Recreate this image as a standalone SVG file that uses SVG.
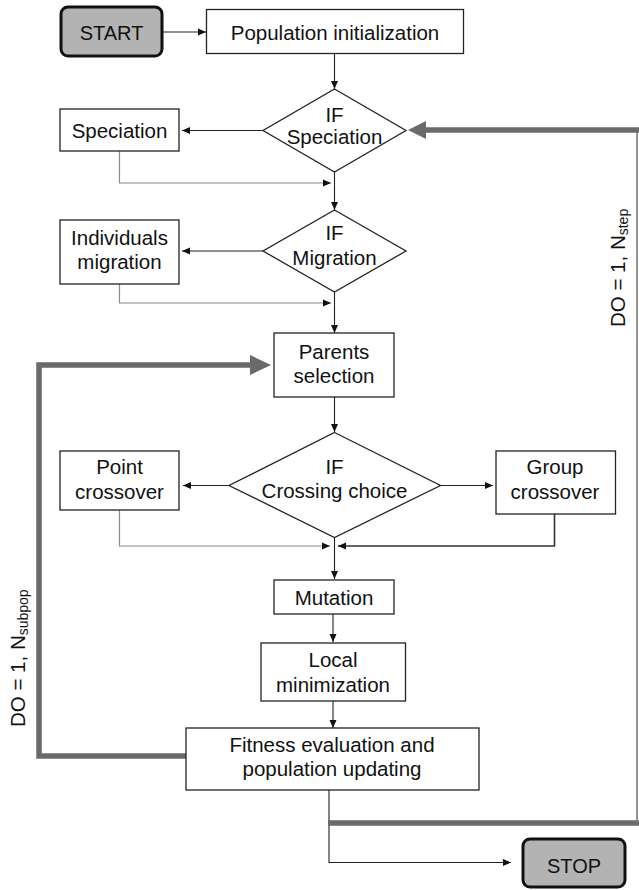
<svg xmlns="http://www.w3.org/2000/svg" width="639" height="890" viewBox="0 0 639 890">
<style>
text{font-family:"Liberation Sans",Arial,sans-serif;font-size:20.5px;fill:#111;text-anchor:middle}
.box{fill:#fff;stroke:#222;stroke-width:1.3}
.term{fill:#b3b3b3;stroke:#111;stroke-width:3}
.ln{fill:none;stroke:#222;stroke-width:1.1}
.lg{fill:none;stroke:#8a8a8a;stroke-width:1.2}
.lb{fill:none;stroke:#333;stroke-width:1.6}
.thick{fill:none;stroke:#6a6a6a;stroke-width:5.5}
.thin{fill:none;stroke:#7a7a7a;stroke-width:1.6}
.head{fill:#6a6a6a}
.lbl{text-anchor:start}
</style>
<defs>
<marker id="ah" markerUnits="userSpaceOnUse" markerWidth="8" markerHeight="8" refX="8" refY="4" orient="auto">
<path d="M0,0.5 L8,4 L0,7.5 z" fill="#111"/>
</marker>
</defs>

<g id="connectors">
<line class="ln" x1="163" y1="32" x2="206" y2="32" marker-end="url(#ah)"/>
<line class="ln" x1="334.5" y1="54" x2="334.5" y2="89" marker-end="url(#ah)"/>
<line class="ln" x1="263" y1="130.5" x2="182" y2="130.5" marker-end="url(#ah)"/>
<polyline class="lg" points="119.5,151 119.5,183 331,183" marker-end="url(#ah)"/>
<line class="ln" x1="334.5" y1="172" x2="334.5" y2="210" marker-end="url(#ah)"/>
<line class="ln" x1="263" y1="251" x2="182" y2="251" marker-end="url(#ah)"/>
<polyline class="lg" points="119.5,284 119.5,303 331,303" marker-end="url(#ah)"/>
<line class="ln" x1="334.5" y1="292" x2="334.5" y2="333" marker-end="url(#ah)"/>
<line class="ln" x1="334.5" y1="397" x2="334.5" y2="432" marker-end="url(#ah)"/>
<line class="ln" x1="229" y1="485.5" x2="183" y2="485.5" marker-end="url(#ah)"/>
<line class="ln" x1="440.5" y1="485.5" x2="493" y2="485.5" marker-end="url(#ah)"/>
<polyline class="lg" points="119.5,510 119.5,546 330,546" marker-end="url(#ah)"/>
<polyline class="lb" points="554.5,514 554.5,546 338,546" marker-end="url(#ah)"/>
<line class="ln" x1="334.5" y1="537.5" x2="334.5" y2="579" marker-end="url(#ah)"/>
<line class="ln" x1="333" y1="614" x2="333" y2="642" marker-end="url(#ah)"/>
<line class="ln" x1="333" y1="701" x2="333" y2="728" marker-end="url(#ah)"/>
<polyline class="ln" points="329,790 329,862.5 511,862.5" marker-end="url(#ah)"/>
<polyline class="thick" points="186,756 39,756 39,365 251,365"/>
<polygon class="head" points="250,355 271,365 250,375"/>
<line class="thick" x1="328" y1="823" x2="642" y2="823"/>
<line class="thin" x1="637" y1="130" x2="637" y2="823"/>
<line class="thick" x1="642" y1="130" x2="425" y2="130"/>
<polygon class="head" points="426,121 408,130 426,139"/>
</g>

<g id="start"><rect class="term" x="61" y="7" width="101" height="49" rx="7"/><text x="111.5" y="40" style="font-size:20px">START</text></g>
<g id="pop-init"><rect class="box" x="206.5" y="9.5" width="257" height="44"/><text x="335" y="39.5">Population initialization</text></g>
<g id="if-speciation"><polygon class="box" points="334.5,89 406,130.5 334.5,172 263,130.5"/><text x="334.5" y="121.5">IF</text><text x="334.5" y="143.5">Speciation</text></g>
<g id="speciation"><rect class="box" x="60" y="109" width="119" height="42"/><text x="119.5" y="137.5">Speciation</text></g>
<g id="if-migration"><polygon class="box" points="334.5,210 406,251 334.5,292 263,251"/><text x="334.5" y="240">IF</text><text x="334.5" y="264.5">Migration</text></g>
<g id="individuals-migration"><rect class="box" x="60" y="220" width="119" height="64"/><text x="119.5" y="245">Individuals</text><text x="119.5" y="269">migration</text></g>
<g id="parents-selection"><rect class="box" x="274" y="333" width="120" height="64"/><text x="334" y="358.5">Parents</text><text x="334" y="383">selection</text></g>
<g id="if-crossing"><polygon class="box" points="334.5,432.5 440.5,485.5 334.5,537.5 229,485.5"/><text x="334.5" y="473.5">IF</text><text x="334.5" y="497.5">Crossing choice</text></g>
<g id="point-crossover"><rect class="box" x="60" y="451" width="119" height="59"/><text x="119.5" y="474">Point</text><text x="119.5" y="498.5">crossover</text></g>
<g id="group-crossover"><rect class="box" x="496" y="451" width="119.5" height="63"/><text x="555" y="474">Group</text><text x="555" y="498.5">crossover</text></g>
<g id="mutation"><rect class="box" x="274" y="580" width="120" height="34"/><text x="334" y="605">Mutation</text></g>
<g id="local-min"><rect class="box" x="261" y="643" width="144.5" height="58"/><text x="333" y="666.5">Local</text><text x="333" y="691.5">minimization</text></g>
<g id="fitness"><rect class="box" x="186" y="728" width="293" height="62"/><text x="332" y="751.5">Fitness evaluation and</text><text x="332" y="775.5">population updating</text></g>
<g id="stop"><rect class="term" x="523" y="839" width="102" height="48" rx="7"/><text x="574" y="872.5" style="font-size:20px">STOP</text></g>

<g id="labels">
<text class="lbl" transform="translate(625,327) rotate(-90)">DO = 1, N<tspan style="font-size:14px" dy="3">step</tspan></text>
<text class="lbl" transform="translate(25,727) rotate(-90)">DO = 1, N<tspan style="font-size:14px" dy="3">subpop</tspan></text>
</g>
</svg>
